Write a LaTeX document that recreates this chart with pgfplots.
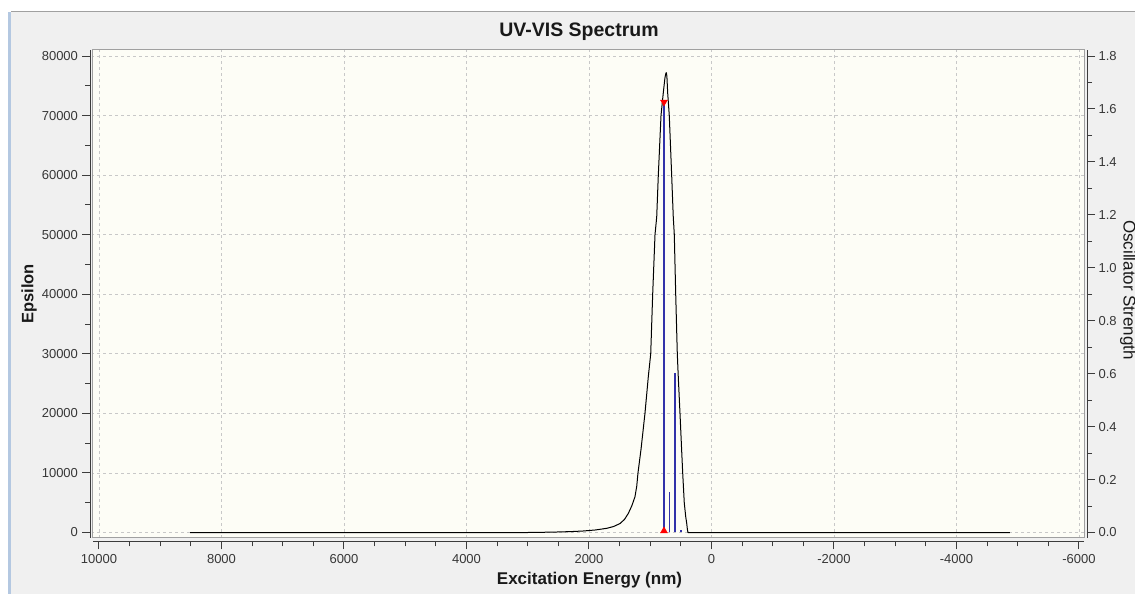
\documentclass[border=0pt]{standalone}
\usepackage{pgfplots}
\pgfplotsset{compat=1.18}
\usepackage{fontspec}
\setmainfont{Liberation Sans}
\definecolor{figbg}{RGB}{240,240,240}
\definecolor{plotbg}{RGB}{253,253,246}
\definecolor{framegray}{RGB}{160,160,160}
\definecolor{gridgray}{RGB}{200,200,200}
\definecolor{axisdark}{RGB}{60,60,60}
\definecolor{ticktext}{RGB}{55,55,55}
\definecolor{stickblue}{RGB}{50,50,170}
\definecolor{leftblue}{RGB}{180,200,225}
\pgfplotsset{every axis/.append style={scaled ticks=false}}
\begin{document}
\begin{tikzpicture}[x=1pt,y=1pt]
\fill[white] (0,0) rectangle (1135,594);
\fill[figbg] (11,0) rectangle (1135,582);
\draw[framegray, line width=1pt] (11,582) -- (1135,582);
\draw[leftblue, line width=2.5pt] (9.5,0) -- (9.5,582);

% main axis: background, frame, grid, spectrum
\begin{axis}[at={(93pt,56pt)}, anchor=south west, scale only axis,
  width=991pt, height=488pt,
  x dir=reverse, xmin=-6082, xmax=10098, ymin=-923, ymax=81010,
  axis background/.style={fill=plotbg},
  axis line style={draw=framegray, line width=1pt},
  xtick={-6000,-4000,-2000,0,2000,4000,6000,8000,10000},
  ytick={0,10000,20000,30000,40000,50000,60000,70000,80000},
  xticklabels={}, yticklabels={},
  tick style={draw=none},
  grid=major,
  major grid style={draw=gridgray, line width=0.8pt, dash pattern=on 3pt off 3pt},
  clip=true]
\addplot[black, line width=1pt, mark=none, line join=round] coordinates {
(8514,0) (3000,0) (2600,60) (2300,150) (2098,250) (1900,420) (1711,700)
(1600,1000) (1494,1500) (1420,2200) (1358,3200) (1300,4500)
(1249,6000) (1220,7800) (1200,10000) (1150,14000) (1086,20000) (1032,26100)
(992,30000) (960,40000) (922,50000) (894,53000) (868,60000) (824,70000)
(787,73800) (760,76300) (745,77100) (737,77200) (728,76600)
(715,73800) (689,70000) (650,60000) (624,53000) (607,50000) (584,40000)
(558,30000) (542,26100) (514,20000) (490,14500) (470,10000) (444,4950)
(420,2600) (405,1600) (394,600) (384,0) (-4873,0)};
\end{axis}

% oscillator strength sticks
\begin{axis}[at={(93pt,56pt)}, anchor=south west, scale only axis,
  width=991pt, height=488pt,
  x dir=reverse, xmin=-6082, xmax=10098, ymin=-0.0208, ymax=1.8227,
  hide axis, clip=false]
\addplot[ycomb, color=stickblue, line width=1.1pt, mark=none] coordinates {
(776,1.626) (689,0.154) (596,0.603) (498,0.009)};
\addplot[only marks, mark=triangle*, mark size=4pt, color=red, mark options={rotate=180, draw=red, fill=red}] coordinates {(776,1.626)};
\addplot[only marks, mark=triangle*, mark size=4pt, color=red, mark options={draw=red, fill=red}] coordinates {(776,0.006)};
\end{axis}

% left and bottom tick axes
\begin{axis}[at={(93pt,56pt)}, anchor=south west, scale only axis,
  width=991pt, height=488pt,
  x dir=reverse, xmin=-6082, xmax=10098, ymin=-923, ymax=81010,
  axis x line=bottom, axis y line=left,
  axis x line shift=3.5pt, axis y line shift=2.5pt,
  axis line style={-, draw=axisdark, line width=1pt},
  tick style={draw=axisdark, line width=1pt},
  tick align=outside, major tick length=8pt, minor tick length=5pt,
  xtick={-6000,-4000,-2000,0,2000,4000,6000,8000,10000},
  xticklabels={-6000,-4000,-2000,0,2000,4000,6000,8000,10000},
  minor x tick num=3,
  ytick={0,10000,20000,30000,40000,50000,60000,70000,80000},
  yticklabels={0,10000,20000,30000,40000,50000,60000,70000,80000},
  minor y tick num=1,
  ticklabel style={font=\fontsize{13}{15}\selectfont, text=ticktext},
  xticklabel style={yshift=-1pt},
  yticklabel style={xshift=-1pt}]
\addplot[draw=none] coordinates {(0,0)};
\end{axis}

% right tick axis
\begin{axis}[at={(93pt,56pt)}, anchor=south west, scale only axis,
  width=991pt, height=488pt,
  x dir=reverse, xmin=-6082, xmax=10098, ymin=-0.0208, ymax=1.8227,
  axis x line=none, axis y line=right,
  axis y line shift=3pt,
  axis line style={-, draw=axisdark, line width=1pt},
  tick style={draw=axisdark, line width=1pt},
  tick align=outside, major tick length=8pt, minor tick length=5pt,
  ytick={0,0.2,0.4,0.6,0.8,1.0,1.2,1.4,1.6,1.8},
  yticklabels={0.0,0.2,0.4,0.6,0.8,1.0,1.2,1.4,1.6,1.8},
  minor y tick num=1,
  ticklabel style={font=\fontsize{13}{15}\selectfont, text=ticktext}]
\addplot[draw=none] coordinates {(0,0)};
\end{axis}

\node[font=\fontsize{19.5}{22}\selectfont\bfseries, text=black!90] at (579,562) {UV-VIS Spectrum};
\node[font=\fontsize{17}{20}\selectfont\bfseries, text=black!90] at (589.5,14) {Excitation Energy (nm)};
\node[font=\fontsize{16.5}{19}\selectfont\bfseries, text=black!90, rotate=90] at (29,300) {Epsilon};
\node[font=\fontsize{17}{20}\selectfont, text=black!90, rotate=-90] at (1128,304) {Oscillator Strength};
\pgfresetboundingbox
\path (0,0) rectangle (1135,594);
\end{tikzpicture}
\end{document}
